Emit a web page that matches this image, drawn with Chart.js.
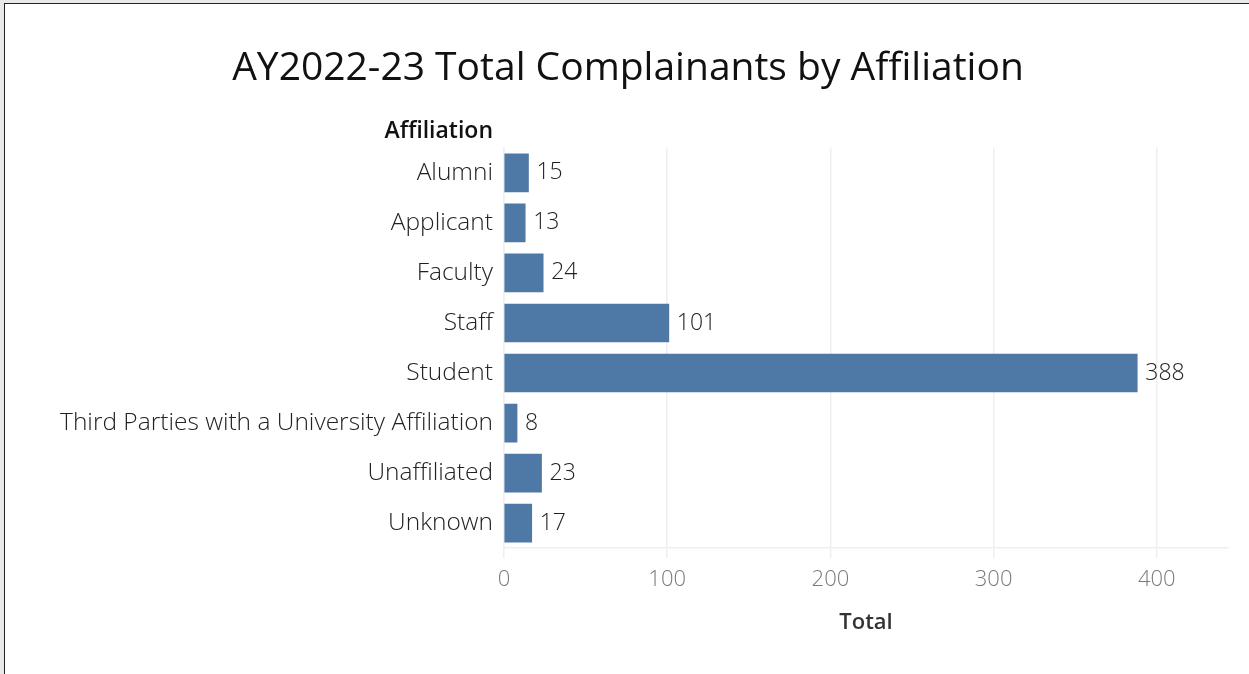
<!DOCTYPE html>
<html lang="en">
<head>
    <meta charset="UTF-8">
    <title>AY2022-23 Total Complainants by Affiliation</title>
    <script src="https://cdn.jsdelivr.net/npm/chart.js"></script>
    <style>
        body {
            margin: 0;
            background-color: #e9e9e9;
            width: 1249px;
            height: 674px;
            overflow: hidden;
            position: relative;
        }
        .frame {
            position: absolute;
            left: 4px;
            top: 3px;
            right: 0;
            bottom: 0;
            background: #fff;
            border-left: 1px solid #222;
            border-top: 1px solid #222;
        }
        .chart-box {
            position: absolute;
            left: 0;
            top: 0;
            width: 1249px;
            height: 674px;
        }
    </style>
</head>
<body>
    <div class="frame"></div>
    <div class="chart-box">
        <canvas id="affChart"></canvas>
    </div>

    <script>
        var affiliations = ['Alumni', 'Applicant', 'Faculty', 'Staff', 'Student',
            'Third Parties with a University Affiliation', 'Unaffiliated', 'Unknown'];
        var totals = [15, 13, 24, 101, 388, 8, 23, 17];
        var xTicks = [0, 100, 200, 300, 400];

        var fontFamily = '"Open Sans", Lato, sans-serif';

        // value labels at the end of each bar + the "Affiliation" header
        var barLabels = {
            id: 'barLabels',
            afterDatasetsDraw: function (chart) {
                var ctx = chart.ctx;
                var meta = chart.getDatasetMeta(0);
                ctx.save();
                ctx.font = '300 23px ' + fontFamily;
                ctx.fillStyle = '#222';
                ctx.textAlign = 'left';
                ctx.textBaseline = 'middle';
                meta.data.forEach(function (bar, i) {
                    ctx.fillText(totals[i], bar.x + 8, bar.y);
                });

                ctx.font = '600 23px ' + fontFamily;
                ctx.fillStyle = '#111';
                ctx.textAlign = 'right';
                ctx.fillText('Affiliation', chart.chartArea.left - 11, 131);
                ctx.restore();
            }
        };

        var ctx = document.getElementById('affChart').getContext('2d');
        var affChart = new Chart(ctx, {
            type: 'bar',
            data: {
                labels: affiliations,
                datasets: [{
                    label: 'Total',
                    data: totals,
                    backgroundColor: '#4e79a7',
                    barThickness: 38
                }]
            },
            options: {
                indexAxis: 'y',
                responsive: true,
                maintainAspectRatio: false,
                animation: false,
                layout: { padding: { top: 0, right: 21, bottom: 0, left: 28 } },
                plugins: {
                    legend: { display: false },
                    tooltip: { enabled: false },
                    title: {
                        display: true,
                        text: 'AY2022-23 Total Complainants by Affiliation',
                        color: '#111',
                        font: { family: fontFamily, size: 39, weight: '500' },
                        padding: { top: 45, bottom: 56 }
                    }
                },
                scales: {
                    x: {
                        min: 0,
                        max: 443.6,
                        afterBuildTicks: function (scale) {
                            scale.ticks = xTicks.map(function (v) { return { value: v }; });
                        },
                        grid: {
                            color: '#efefef',
                            lineWidth: 1.5,
                            tickLength: 10
                        },
                        border: { color: '#efefef', width: 1.5 },
                        ticks: {
                            color: '#7a7a7a',
                            padding: 8,
                            font: { family: fontFamily, size: 22, weight: '300' }
                        },
                        title: {
                            display: true,
                            text: 'Total',
                            color: '#333',
                            font: { family: fontFamily, size: 22, weight: '600' },
                            padding: { top: 9, bottom: 38 }
                        }
                    },
                    y: {
                        afterFit: function (scale) { scale.width = 476; },
                        grid: { display: false },
                        border: { color: '#efefef', width: 1.5 },
                        ticks: {
                            color: '#222',
                            padding: 3,
                            font: { family: fontFamily, size: 24.5, weight: '300' }
                        }
                    }
                }
            },
            plugins: [barLabels]
        });
    </script>
</body>
</html>
